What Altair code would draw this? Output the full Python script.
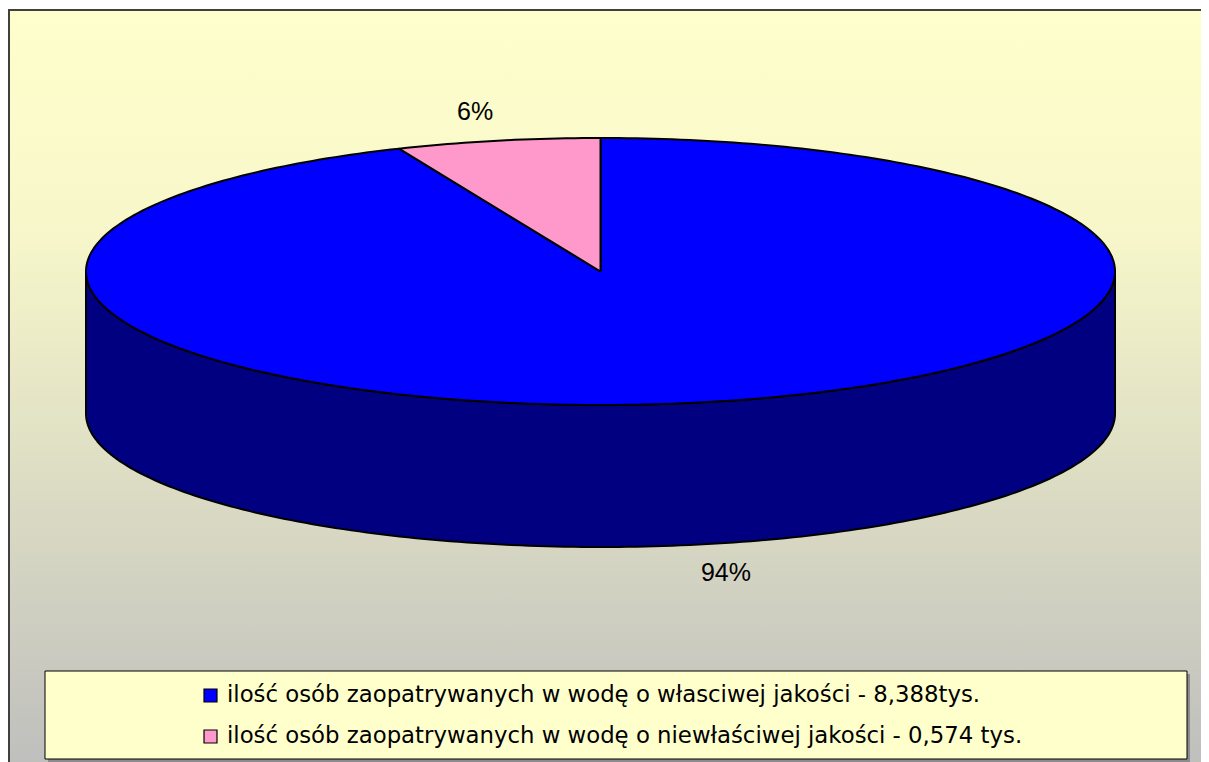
import numpy as np
import pandas as pd
import altair as alt

# ---------------- data ----------------
categories = [
    "ilość osób zaopatrywanych w wodę o własciwej jakości - 8,388tys.",
    "ilość osób zaopatrywanych w wodę o niewłaściwej jakości - 0,574 tys.",
]
values = [8.388, 0.574]
top_colors = ["#0000FF", "#FF99CC"]
side_colors = ["#000080", "#804C66"]

# ---------------- layout (page pixel units) ----------------
W, H = 1193, 760
X0, Y0 = 8, 8
CX, CY, RX, RY, DEPTH = 600.5, 271.5, 514.5, 133.5, 142
LABEL_K = 1.22
LEG_BOX = (45, 671, 1187, 759)
LEG_SQ_X, LEG_TX, LEG_Y0, LEG_DY = 210.5, 227, 695.5, 41

total = float(sum(values))
fr = np.array(values) / total
ends = np.cumsum(fr) * 360.0
starts = ends - fr * 360.0


def pt(phi, dy=0.0):
    r = np.radians(phi)
    return CX + RX * np.sin(r), CY - RY * np.cos(r) + dy


top_rows, side_rows, label_rows = [], [], []
for k, (c, s, e) in enumerate(zip(categories, starts, ends)):
    n = max(int(np.ceil(e - s)), 4)
    ph = np.linspace(s, e, n + 1)
    pts = [(CX, CY)] + [pt(p) for p in ph] + [(CX, CY)]
    for i, (x, y) in enumerate(pts):
        top_rows.append(dict(cat=c, i=i, x=x, y=y, color=top_colors[k]))
    a, b = max(s, 90.0), min(e, 270.0)
    if b > a:
        m = max(int(np.ceil(b - a)), 4)
        ph = np.linspace(a, b, m + 1)
        pts = [pt(p) for p in ph] + [pt(p, DEPTH) for p in ph[::-1]] + [pt(a)]
        for i, (x, y) in enumerate(pts):
            side_rows.append(dict(cat=c, i=i, x=x, y=y, color=side_colors[k]))
    mid = np.radians((s + e) / 2)
    lx = CX + LABEL_K * RX * np.sin(mid)
    ly = CY - LABEL_K * RY * np.cos(mid) + (DEPTH if np.cos(mid) < 0 else 0)
    label_rows.append(dict(x=lx, y=ly, txt=f"{round(fr[k] * 100)}%"))

top_df = pd.DataFrame(top_rows)
side_df = pd.DataFrame(side_rows)
lab_df = pd.DataFrame(label_rows)
leg_df = pd.DataFrame(dict(
    cat=categories,
    color=top_colors,
    sx=[LEG_SQ_X] * len(categories),
    tx=[LEG_TX] * len(categories),
    y=[LEG_Y0 + i * LEG_DY for i in range(len(categories))],
    ty=[LEG_Y0 + 6.5 + i * LEG_DY for i in range(len(categories))],
))
box_df = pd.DataFrame([dict(x=LEG_BOX[0], x2=LEG_BOX[2], y=LEG_BOX[1], y2=LEG_BOX[3])])
shadow_df = pd.DataFrame([dict(x=LEG_BOX[0] + 3, x2=LEG_BOX[2] + 3, y=LEG_BOX[1] + 3, y2=LEG_BOX[3] + 3)])

xs = alt.Scale(domain=[X0, X0 + W], nice=False, zero=False)
ys = alt.Scale(domain=[Y0, Y0 + H], nice=False, zero=False, reverse=True)

gradient = alt.Gradient(
    gradient="linear",
    stops=[alt.GradientStop(color="#FFFFCC", offset=0),
           alt.GradientStop(color="#F6F6CA", offset=0.3),
           alt.GradientStop(color="#BDBDBD", offset=1)],
    x1=0, x2=0, y1=0, y2=1,
)

one = pd.DataFrame([dict(a=1)])
bg = alt.Chart(one).mark_rect(fill=gradient, strokeWidth=0).encode(
    x=alt.value(1), x2=alt.value(W + 40), y=alt.value(2), y2=alt.value(H + 12)
)
frame_left = alt.Chart(one).mark_rule(color="#404040", strokeWidth=2).encode(
    x=alt.value(1), y=alt.value(1), y2=alt.value(H + 20)
)
frame_top = alt.Chart(one).mark_rule(color="#404040", strokeWidth=2).encode(
    y=alt.value(2), x=alt.value(0), x2=alt.value(W + 20)
)

side = alt.Chart(side_df).mark_line(stroke="black", strokeWidth=2, strokeJoin="round").encode(
    x=alt.X("x:Q", scale=xs, axis=None),
    y=alt.Y("y:Q", scale=ys, axis=None),
    fill=alt.Fill("color:N", scale=None),
    detail="cat:N",
    order="i:Q",
)

top = alt.Chart(top_df).mark_line(stroke="black", strokeWidth=2, strokeJoin="round").encode(
    x=alt.X("x:Q", scale=xs, axis=None),
    y=alt.Y("y:Q", scale=ys, axis=None),
    fill=alt.Fill("color:N", scale=None),
    detail="cat:N",
    order="i:Q",
)

labels = alt.Chart(lab_df).mark_text(
    font="Liberation Sans", fontSize=25, color="black", align="center", baseline="middle"
).encode(x=alt.X("x:Q", scale=xs, axis=None), y=alt.Y("y:Q", scale=ys, axis=None), text="txt:N")

shadow = alt.Chart(shadow_df).mark_rect(fill="#8C8C8C").encode(
    x=alt.X("x:Q", scale=xs, axis=None), x2="x2:Q",
    y=alt.Y("y:Q", scale=ys, axis=None), y2="y2:Q",
)
box = alt.Chart(box_df).mark_rect(fill="#FFFFCC", stroke="black", strokeWidth=1).encode(
    x=alt.X("x:Q", scale=xs, axis=None), x2="x2:Q",
    y=alt.Y("y:Q", scale=ys, axis=None), y2="y2:Q",
)
leg_sq = alt.Chart(leg_df).mark_square(size=169, stroke="black", strokeWidth=1.2, opacity=1).encode(
    x=alt.X("sx:Q", scale=xs, axis=None),
    y=alt.Y("y:Q", scale=ys, axis=None),
    fill=alt.Fill("color:N", scale=None),
)
leg_tx = alt.Chart(leg_df).mark_text(
    font="DejaVu Sans", fontSize=22.8, color="black", align="left", baseline="alphabetic"
).encode(
    x=alt.X("tx:Q", scale=xs, axis=None),
    y=alt.Y("ty:Q", scale=ys, axis=None),
    text="cat:N",
)

chart = alt.layer(bg, frame_left, frame_top, side, top, labels, shadow, box, leg_sq, leg_tx).properties(
    width=W, height=H, autosize=alt.AutoSizeParams(type="none"), padding=0,
    background="white",
).configure_view(stroke=None)

chart.save("out.html", embed_options={"renderer": "svg", "actions": False})
